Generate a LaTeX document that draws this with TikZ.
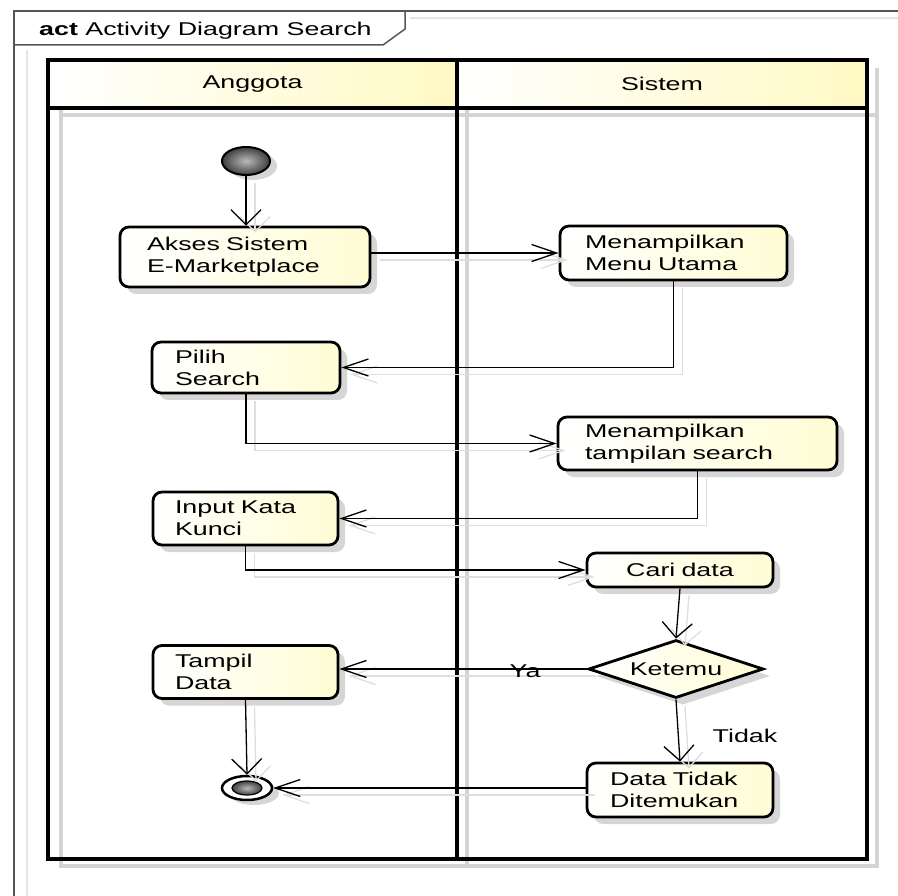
\documentclass[tikz,border=0pt]{standalone}
\usepackage{fontspec}
\setmainfont[FakeStretch=1.45]{Liberation Sans}
\usetikzlibrary{arrows.meta,shapes.geometric,shadows}
\definecolor{paleyel}{RGB}{255,249,195}
\definecolor{actyel}{RGB}{255,253,212}
\definecolor{shadowgrey}{RGB}{212,212,212}
\definecolor{framegrey}{RGB}{85,85,85}
\newcommand{\myflows}{%
\draw[flow,varr] (init.south) -- (init.south |- akses.north);
\draw[flow,harr] (akses.east |- menu.west) -- (menu.west);
\draw[flow,harr] (menu.south) |- (pilih.east);
\draw[flow,harr] (pilih.south) |- (tampilan.west);
\draw[flow,harr] (tampilan.south) |- (input.east);
\draw[flow,harr] (input.south) |- (cari.west);
\draw[flow,varr] (cari.south) -- (ketemu.north);
\draw[flow,harr] (ketemu.west) -- (ketemu.west -| tampil.east);
\draw[flow,varr] (ketemu.south) -- (tidak.north);
\draw[flow,harr] (tidak.west |- final.east) -- (final.east);
\draw[flow,varr] (tampil.south) -- (final.north);
}
\begin{document}
\begin{tikzpicture}[x=1pt,y=-1pt,
  txt/.style={font=\fontsize{18.5}{22}\selectfont},
  action/.style={txt, draw=black, line width=2.8pt, rounded corners=9pt,
    left color=white, right color=actyel, align=left, inner ysep=0pt,
    drop shadow={shadow xshift=7pt, shadow yshift=-7pt, fill=black!16, opacity=1}},
  decision/.style={txt, diamond, draw=black, line width=2.8pt, aspect=3,
    left color=white, right color=actyel, inner sep=0pt,
    minimum width=175pt, minimum height=58pt,
    drop shadow={shadow xshift=7pt, shadow yshift=-7pt, fill=black!16, opacity=1}},
  flowcol/.style={draw=black},
  flow/.style={line width=1.3pt, flowcol},
  harr/.style={-{Straight Barb[length=25pt,width=17pt]}},
  varr/.style={-{Straight Barb[length=15pt,width=30pt]}},
  lane/.style={line width=3.6pt, draw=black},
  laneshadow/.style={line width=4pt, draw=shadowgrey}
]
\useasboundingbox (0,0) rectangle (898,896);
% outer frame
\draw[black!10, line width=1.5pt] (27,50) -- (27,896);
\draw[black!10, line width=1.5pt] (410,18) -- (898,18);
\draw[framegrey, line width=1.5pt] (14,896) -- (14,11) -- (898,11);
\draw[framegrey, line width=1.5pt] (14,45) -- (383,45) -- (405,29) -- (405,11);
\node[txt, anchor=base west, inner sep=0pt] (title) at (39,36) {\textbf{act} Activity Diagram Search};
% swimlanes
\draw[laneshadow] (61,68) -- (61,866) -- (877,866) -- (877,68);
\draw[laneshadow] (467,68) -- (467,866);
\draw[laneshadow] (61,115) -- (877,115);
\shade[left color=white, right color=paleyel] (48,60) rectangle (457,108);
\shade[left color=white, right color=paleyel] (457,60) rectangle (867,108);
\draw[lane] (48,60) rectangle (867,859);
\draw[lane] (48,108) -- (867,108);
\draw[lane] (457,60) -- (457,859);
\node[txt] (hA) at (252.5,84) {Anggota};
\node[txt] (hS) at (662,84) {Sistem};
% nodes
\node[ellipse, draw=black, line width=2pt, minimum width=48pt, minimum height=28pt, inner sep=0pt,
  inner color=gray!55, outer color=black!75,
  drop shadow={shadow xshift=7pt, shadow yshift=-5pt, fill=black!16, opacity=1}] (init) at (246,161) {};
\node[action, text width=196pt, inner xsep=27pt, minimum height=60pt] (akses) at (245,257) {Akses Sistem\\E-Marketplace};
\node[action, text width=177pt, inner xsep=25pt, minimum height=54pt] (menu) at (673.5,253) {Menampilkan\\Menu Utama};
\node[action, text width=142pt, inner xsep=23pt, minimum height=51pt] (pilih) at (246,367.5) {Pilih\\Search};
\node[action, text width=225pt, inner xsep=27pt, minimum height=53pt] (tampilan) at (697.5,443.5) {Menampilkan\\tampilan search};
\node[action, text width=141pt, inner xsep=22pt, minimum height=53pt] (input) at (245.5,518.5) {Input Kata\\Kunci};
\node[action, align=center, text width=130pt, inner xsep=28pt, minimum height=34pt] (cari) at (680,570) {Cari data};
\node[decision] (ketemu) at (676,669) {Ketemu};
\node[action, text width=141pt, inner xsep=22pt, minimum height=53pt] (tampil) at (245.5,672) {Tampil\\Data};
\node[action, text width=140pt, inner xsep=23pt, minimum height=54pt] (tidak) at (680,790) {Data Tidak\\Ditemukan};
\node[ellipse, draw=black, line width=2.5pt, fill=white, minimum width=50pt, minimum height=24pt, inner sep=0pt,
  drop shadow={shadow xshift=7pt, shadow yshift=-5pt, fill=black!16, opacity=1}] (final) at (247,788) {};
\node[ellipse, draw=black, line width=1.2pt, minimum width=30pt, minimum height=14pt, inner sep=0pt,
  inner color=gray!55, outer color=black!75] (finalin) at (final) {};
% connectors: shadows then lines
\begin{scope}[transform canvas={shift={(9pt,-7pt)}}, flowcol/.style={draw=black!13}]
\myflows
\end{scope}
\myflows
\node[txt] (ya) at (525,671) {Ya};
\node[txt] (tdk) at (745,736) {Tidak};
\end{tikzpicture}
\end{document}
